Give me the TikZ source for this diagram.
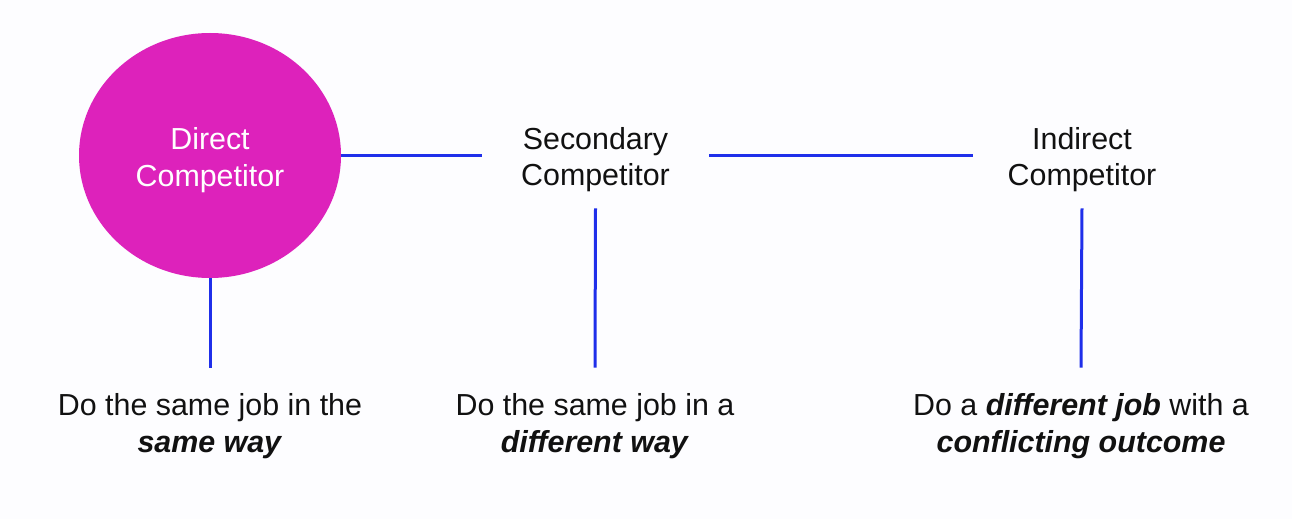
\documentclass[tikz,border=0pt]{standalone}
\usepackage{fontspec}
\setmainfont{Liberation Sans}
\usetikzlibrary{shapes.geometric}
\definecolor{magentafill}{HTML}{DD22BB}
\definecolor{linkblue}{HTML}{1F2FEA}
\definecolor{bgwhite}{HTML}{FDFDFF}
\definecolor{txt}{HTML}{111111}
\newcommand\mytwolines[2]{\begin{tabular}{@{}c@{}}\rule{0pt}{17.8pt}#1\\#2\end{tabular}}
\tikzset{
  lbl/.style={align=center, inner sep=0pt, text=txt, font=\fontsize{15.2}{18.3}\selectfont},
  bigcircle/.style={ellipse, fill=magentafill, draw=none, minimum width=131pt, minimum height=122.5pt, inner sep=0pt, text=white, font=\fontsize{15.2}{18.3}\selectfont},
  link/.style={draw=linkblue, line width=1.5pt},
}
\begin{document}
\begin{tikzpicture}[x=0.5pt, y=-0.5pt]
\fill[bgwhite] (0,0) rectangle (1292,519);
\useasboundingbox (0,0) rectangle (1292,519);
\node[bigcircle] (direct) at (210,155.5) {\mytwolines{Direct}{Competitor}};
\node[lbl, minimum width=113.5pt, minimum height=48.5pt] (secondary) at (595.5,159.5) {Secondary\\Competitor};
\node[lbl, minimum width=109pt, minimum height=48.5pt] (indirect) at (1082,159.5) {Indirect\\Competitor};
\node[lbl, minimum height=58pt] (d1) at (210,426) {Do the same job in the\\\textbf{\textit{same way}}};
\node[lbl, minimum height=58pt] (d2) at (595,426) {Do the same job in a\\\textbf{\textit{different way}}};
\node[lbl, minimum height=58pt] (d3) at (1081,426) {Do a \textbf{\textit{different job}} with a\\\textbf{\textit{conflicting outcome}}};
\draw[link] (direct.east) -- (direct.east -| secondary.west);
\draw[link] (secondary.east |- direct.east) -- (direct.east -| indirect.west);
\draw[link] (direct.south) -- (d1.north);
\draw[link] (secondary.south) -- (d2.north);
\draw[link] (indirect.south) -- (d3.north);
\end{tikzpicture}
\end{document}
